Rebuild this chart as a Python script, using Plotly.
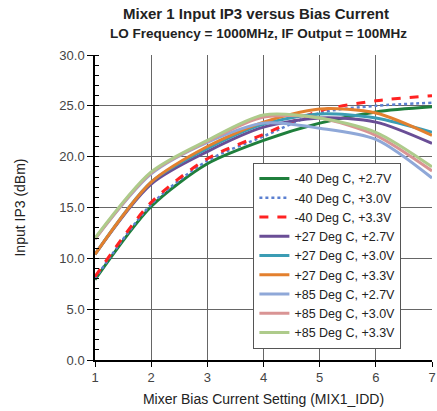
import plotly.graph_objects as go

bias = [1, 2, 3, 4, 5, 6, 7]

names = [
    "-40 Deg C, +2.7V", "-40 Deg C, +3.0V", "-40 Deg C, +3.3V",
    "+27 Deg C, +2.7V", "+27 Deg C, +3.0V", "+27 Deg C, +3.3V",
    "+85 Deg C, +2.7V", "+85 Deg C, +3.0V", "+85 Deg C, +3.3V",
]

m40_27 = [7.9, 15.1, 19.3, 21.6, 23.3, 24.4, 24.9]
m40_30 = [8.0, 15.3, 19.6, 22.0, 24.3, 25.0, 25.3]
m40_33 = [8.2, 15.5, 19.8, 22.2, 24.5, 25.5, 26.0]
p27_27 = [10.4, 17.3, 20.5, 22.9, 23.8, 23.4, 21.3]
p27_30 = [10.4, 17.5, 20.8, 23.2, 24.2, 23.8, 22.4]
p27_33 = [10.4, 17.5, 21.0, 23.4, 24.7, 24.3, 22.1]
p85_27 = [11.9, 18.3, 21.4, 23.3, 22.8, 21.7, 17.9]
p85_30 = [11.9, 18.4, 21.5, 23.9, 23.8, 22.1, 18.6]
p85_33 = [12.0, 18.5, 21.6, 24.1, 23.8, 22.4, 19.0]

series = [m40_27, m40_30, m40_33, p27_27, p27_30, p27_33, p85_27, p85_30, p85_33]
colors = ["#1F7F3C", "#5A7FD0", "#FF2222", "#6A4E96", "#3B9CB4", "#E3802E",
          "#8FA8D8", "#D99494", "#AECB8B"]
dashes = ["solid", "dot", "dash", "solid", "solid", "solid", "solid", "solid", "solid"]
widths = [3, 2.5, 3, 3, 3, 3, 3, 3, 3]

fig = go.Figure()
for i in range(len(series)):
    fig.add_trace(go.Scatter(
        x=bias, y=series[i], name=names[i], mode="lines",
        line=dict(color=colors[i], width=widths[i], dash=dashes[i], shape="spline", smoothing=0.8),
        legendrank=i + 1,
    ))

font_family = "Liberation Sans, Arial, sans-serif"
fig.update_layout(
    width=437, height=411,
    margin=dict(l=95, r=5, t=55, b=51, autoexpand=False),
    paper_bgcolor="white", plot_bgcolor="white",
    font=dict(family=font_family, size=13, color="#333333"),
    showlegend=True,
    legend=dict(
        x=0.47, y=0.646, xanchor="left", yanchor="top",
        bgcolor="white", bordercolor="#555555", borderwidth=1,
        font=dict(size=12.5, color="#222222"),
        tracegroupgap=0, itemwidth=30,
    ),
)
fig.add_annotation(text="<b>Mixer 1 Input IP3 versus Bias Current</b>",
                   xref="paper", yref="paper", x=0.5, y=1.0, yshift=52, xshift=-8,
                   showarrow=False, font=dict(size=15, color="#222222"))
fig.add_annotation(text="<b>LO Frequency = 1000MHz, IF Output = 100MHz</b>",
                   xref="paper", yref="paper", x=0.5, y=1.0, yshift=31, xshift=-5,
                   showarrow=False, font=dict(size=13.5, color="#222222"))

fig.update_xaxes(
    range=[1, 7], tickmode="array", tickvals=bias, ticktext=[str(b) for b in bias],
    automargin=False,
    showgrid=True, gridcolor="#666666", gridwidth=1,
    showline=True, linecolor="black", linewidth=1.5,
    ticks="outside", ticklen=5, tickcolor="black",
    tickfont=dict(size=13, color="#444444"),
    title=dict(text="Mixer Bias Current Setting (MIX1_IDD)", font=dict(size=14, color="#222222"), standoff=10),
    zeroline=False, mirror=False,
)
fig.update_yaxes(
    range=[0, 30], dtick=5, tickformat=".1f", automargin=False,
    showgrid=True, gridcolor="#666666", gridwidth=1,
    showline=True, linecolor="black", linewidth=1.5,
    ticks="outside", ticklen=6, tickcolor="black",
    minor=dict(dtick=1, ticks="inside", ticklen=4, tickcolor="black", showgrid=False),
    tickfont=dict(size=13, color="#444444"),
    title=dict(text="Input IP3 (dBm)", font=dict(size=14, color="#222222"), standoff=30),
    zeroline=False,
)

fig.write_html(
    "out.html",
    config={"displayModeBar": False},
    post_script="document.body.style.margin='0';document.body.style.overflow='hidden';",
)
